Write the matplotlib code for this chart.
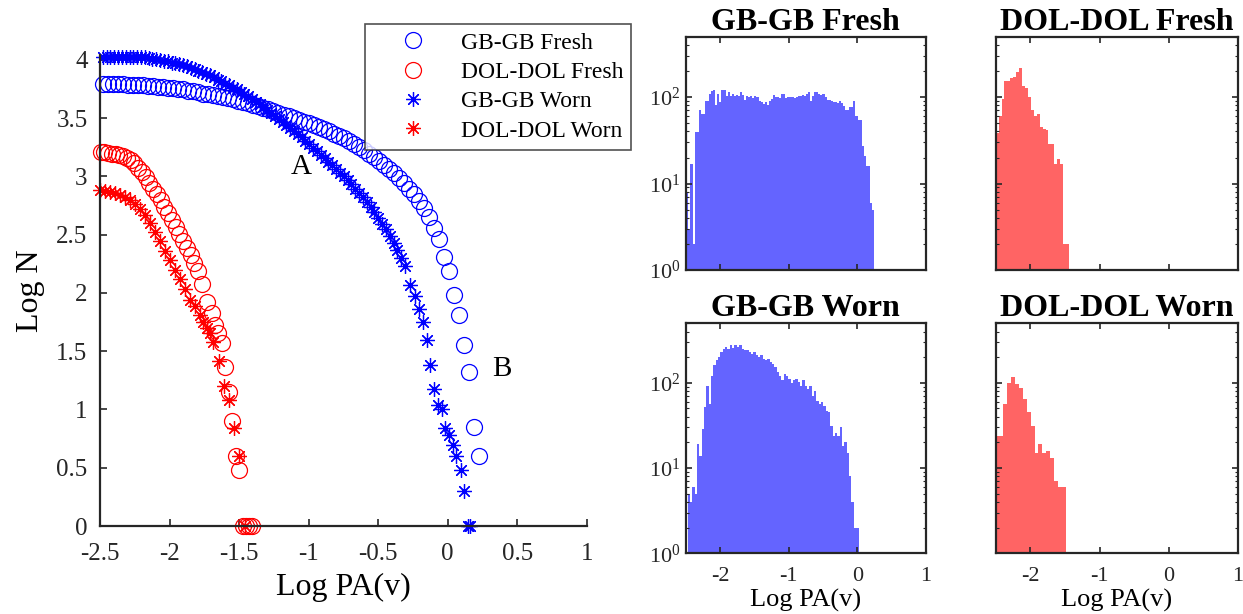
import numpy as np
import matplotlib
matplotlib.use("Agg")
import matplotlib.pyplot as plt
from matplotlib.ticker import LogLocator, NullFormatter

plt.rcParams['font.family'] = ['Liberation Serif', 'DejaVu Serif']
plt.rcParams['mathtext.fontset'] = 'stix'

# === Cumulative curves (Log N vs Log PA) ===
gb_fresh_x = [-2.480, -2.444, -2.408, -2.372, -2.336, -2.300, -2.263, -2.227, -2.191, -2.155,
              -2.119, -2.083, -2.047, -2.011, -1.975, -1.939, -1.902, -1.866, -1.830, -1.794,
              -1.758, -1.722, -1.686, -1.650, -1.614, -1.578, -1.541, -1.505, -1.469, -1.433,
              -1.397, -1.361, -1.325, -1.289, -1.253, -1.217, -1.180, -1.144, -1.108, -1.072,
              -1.036, -1.000, -0.964, -0.928, -0.892, -0.856, -0.819, -0.783, -0.747, -0.711,
              -0.675, -0.639, -0.603, -0.567, -0.531, -0.495, -0.458, -0.422, -0.386, -0.350,
              -0.314, -0.278, -0.242, -0.206, -0.170, -0.134, -0.097, -0.061, -0.025, 0.011,
              0.047, 0.083, 0.119, 0.155, 0.191, 0.227]
gb_fresh_y = [3.79, 3.79, 3.79, 3.79, 3.79, 3.785, 3.785, 3.78, 3.78, 3.775,
              3.775, 3.77, 3.765, 3.76, 3.755, 3.75, 3.745, 3.735, 3.73, 3.72,
              3.71, 3.705, 3.70, 3.69, 3.68, 3.67, 3.66, 3.65, 3.635, 3.625,
              3.615, 3.60, 3.59, 3.575, 3.56, 3.545, 3.53, 3.515, 3.50, 3.485,
              3.47, 3.455, 3.44, 3.42, 3.405, 3.385, 3.365, 3.345, 3.325, 3.30,
              3.275, 3.25, 3.225, 3.195, 3.165, 3.13, 3.095, 3.06, 3.025, 2.985,
              2.94, 2.895, 2.845, 2.79, 2.73, 2.65, 2.56, 2.46, 2.31, 2.19,
              1.98, 1.81, 1.55, 1.32, 0.85, 0.60]

gb_worn_x = [-2.480, -2.453, -2.425, -2.398, -2.370, -2.343, -2.315, -2.288, -2.260, -2.233,
             -2.205, -2.178, -2.150, -2.123, -2.095, -2.068, -2.040, -2.013, -1.985, -1.958,
             -1.930, -1.903, -1.875, -1.848, -1.820, -1.793, -1.765, -1.738, -1.710, -1.683,
             -1.655, -1.628, -1.600, -1.573, -1.545, -1.518, -1.490, -1.463, -1.435, -1.408,
             -1.380, -1.353, -1.325, -1.298, -1.270, -1.243, -1.215, -1.188, -1.160, -1.133,
             -1.105, -1.078, -1.050, -1.023, -0.995, -0.968, -0.940, -0.913, -0.885, -0.858,
             -0.830, -0.803, -0.775, -0.748, -0.720, -0.693, -0.665, -0.638, -0.610, -0.583,
             -0.555, -0.528, -0.500, -0.473, -0.445, -0.418, -0.390, -0.363, -0.335, -0.308,
             -0.268, -0.232, -0.209, -0.180, -0.150, -0.126, -0.097, -0.067, -0.041, -0.017,
             0.012, 0.036, 0.057, 0.092, 0.116, 0.148, 0.158]
gb_worn_y = [4.02, 4.02, 4.02, 4.02, 4.02, 4.02, 4.02, 4.02, 4.02, 4.02,
             4.02, 4.02, 4.015, 4.01, 4.005, 4.0, 3.99, 3.985, 3.975, 3.97,
             3.96, 3.955, 3.945, 3.93, 3.92, 3.905, 3.895, 3.88, 3.865, 3.85,
             3.83, 3.815, 3.795, 3.78, 3.76, 3.745, 3.725, 3.705, 3.685, 3.665,
             3.64, 3.62, 3.595, 3.57, 3.545, 3.52, 3.495, 3.47, 3.44, 3.415,
             3.39, 3.36, 3.335, 3.305, 3.275, 3.245, 3.215, 3.185, 3.155, 3.125,
             3.095, 3.065, 3.03, 3.0, 2.965, 2.93, 2.895, 2.86, 2.82, 2.78,
             2.735, 2.69, 2.645, 2.595, 2.545, 2.49, 2.43, 2.365, 2.30, 2.23,
             2.065, 1.973, 1.865, 1.751, 1.594, 1.380, 1.176, 1.041, 1.000, 0.845,
             0.778, 0.699, 0.602, 0.477, 0.301, 0.0, 0.0]

dol_fresh_x = [-2.496, -2.469, -2.442, -2.415, -2.388, -2.361, -2.334, -2.307, -2.280, -2.253,
               -2.226, -2.199, -2.172, -2.145, -2.118, -2.091, -2.064, -2.037, -2.010, -1.983,
               -1.956, -1.929, -1.902, -1.875, -1.848, -1.821, -1.794, -1.767, -1.732, -1.696,
               -1.673, -1.649, -1.625, -1.601, -1.572, -1.548, -1.519, -1.498, -1.470, -1.450,
               -1.430, -1.410]
dol_fresh_y = [3.21, 3.205, 3.20, 3.195, 3.19, 3.185, 3.175, 3.16, 3.14, 3.11,
               3.075, 3.035, 2.99, 2.945, 2.895, 2.845, 2.795, 2.74, 2.685, 2.625,
               2.565, 2.505, 2.445, 2.385, 2.325, 2.26, 2.19, 2.075, 1.92, 1.826,
               1.724, 1.653, 1.568, 1.362, 1.146, 0.903, 0.602, 0.477, 0.0, 0.0,
               0.0, 0.0]

dol_worn_x = [-2.500, -2.464, -2.428, -2.392, -2.356, -2.320, -2.284, -2.248, -2.212, -2.176,
              -2.140, -2.104, -2.068, -2.032, -1.996, -1.960, -1.924, -1.888, -1.853, -1.817,
              -1.781, -1.757, -1.733, -1.709, -1.685, -1.642, -1.606, -1.572, -1.536, -1.500,
              -1.460]
dol_worn_y = [2.885, 2.875, 2.865, 2.855, 2.84, 2.825, 2.80, 2.765, 2.72, 2.665,
              2.60, 2.525, 2.445, 2.36, 2.28, 2.20, 2.115, 2.03, 1.94, 1.89,
              1.81, 1.75, 1.70, 1.653, 1.58, 1.415, 1.204, 1.079, 0.845, 0.602,
              0.0]

# === Histograms (counts per bin, bins span the given range) ===
gb_fresh_range = (-2.49, 0.243)
gb_fresh_counts = [8, 3, 17, 2, 39, 39, 71, 64, 64, 90, 90, 109, 119, 121, 82, 108, 88, 121, 121, 103,
                   116, 104, 109, 104, 106, 104, 115, 107, 93, 103, 101, 103, 97, 103, 100, 90, 87, 84, 88, 80,
                   90, 96, 106, 100, 100, 98, 110, 110, 98, 101, 100, 101, 98, 100, 103, 102, 106, 103, 110, 113,
                   90, 104, 113, 115, 110, 106, 108, 101, 93, 93, 89, 87, 87, 85, 89, 85, 78, 70, 70, 77,
                   77, 90, 61, 55, 55, 27, 21, 16, 16, 6, 5]

dol_fresh_range = (-2.5, -1.44)
dol_fresh_counts = [38, 61, 96, 155, 155, 167, 169, 195, 216, 136, 128, 100, 70, 61, 64, 45, 43, 42,
                    29, 29, 17, 19, 17, 2, 2]

gb_worn_range = (-2.47, 0.017)
gb_worn_counts = [5, 4, 6, 5, 19, 14, 29, 52, 93, 56, 120, 160, 183, 200, 230, 247, 264, 250, 277, 256,
                  280, 264, 277, 250, 241, 245, 230, 220, 230, 210, 200, 213, 192, 183, 188, 175, 168, 153, 134, 120,
                  107, 128, 120, 111, 100, 107, 111, 102, 93, 107, 93, 85, 93, 71, 81, 62, 56, 59, 54, 47,
                  45, 31, 24, 26, 24, 30, 18, 20, 15, 8, 4, 2, 2]

dol_worn_range = (-2.5, -1.49)
dol_worn_counts = [24, 24, 56, 100, 117, 98, 87, 65, 45, 31, 15, 19, 15, 16, 13, 7, 6, 6]

blue = '#0000FF'
red = '#FF0000'
hist_blue = '#6464FF'
hist_red = '#FF6464'

fig = plt.figure(figsize=(12.43, 6.14), dpi=100)

# === Left: cumulative plot ===
ax = fig.add_axes([0.0805, 0.1433, 0.3916, 0.767])
ax.plot(gb_fresh_x, gb_fresh_y, 'o', mfc='none', mec=blue, ms=11.5, mew=0.9, ls='none', label='GB-GB Fresh')
ax.plot(dol_fresh_x, dol_fresh_y, 'o', mfc='none', mec=red, ms=11.5, mew=0.9, ls='none', label='DOL-DOL Fresh')
ax.plot(gb_worn_x, gb_worn_y, marker=(8, 2, 0), color=blue, ms=10.5, mew=0.9, ls='none', label='GB-GB Worn')
ax.plot(dol_worn_x, dol_worn_y, marker=(8, 2, 0), color=red, ms=10.5, mew=0.9, ls='none', label='DOL-DOL Worn')
for m in ax.lines:
    m.set_clip_on(False)

ax.set_xlim(-2.5, 1)
ax.set_ylim(0, 4.04)
ax.set_xticks([-2.5, -2, -1.5, -1, -0.5, 0, 0.5, 1])
ax.set_xticklabels(['-2.5', '-2', '-1.5', '-1', '-0.5', '0', '0.5', '1'])
ax.set_yticks([0, 0.5, 1, 1.5, 2, 2.5, 3, 3.5, 4])
ax.set_yticklabels(['0', '0.5', '1', '1.5', '2', '2.5', '3', '3.5', '4'])
ax.spines['top'].set_visible(False)
ax.spines['right'].set_visible(False)
for s in ('left', 'bottom'):
    ax.spines[s].set_linewidth(1.6)
    ax.spines[s].set_color('#262626')
ax.tick_params(direction='in', length=5, width=1.2, labelsize=18, colors='#262626')
ax.tick_params(axis='x', pad=12)
ax.tick_params(axis='y', pad=9)
ax.set_xlabel('Log PA(v)', fontsize=23, labelpad=6)
ax.set_ylabel('Log N', fontsize=23, labelpad=8)
ax.text(-1.05, 3.08, 'A', fontsize=21, ha='center', va='center')
ax.text(0.39, 1.35, 'B', fontsize=21, ha='center', va='center')

leg = ax.legend(loc='upper left', bbox_to_anchor=(0.2936, 0.961), bbox_transform=fig.transFigure,
                borderaxespad=0, fontsize=17, frameon=True, fancybox=False, handlelength=3.4,
                handletextpad=0.3, borderpad=0.35, labelspacing=0.33, markerscale=1.0)
leg.get_frame().set_edgecolor('#262626')
leg.get_frame().set_linewidth(1.2)

# === Right: histograms ===
def draw_hist(rect, counts, rng, color, title, xlab, ylab):
    h = fig.add_axes(rect)
    edges = np.linspace(rng[0], rng[1], len(counts) + 1)
    h.bar(edges[:-1], counts, width=np.diff(edges), align='edge', color=color, linewidth=0)
    h.set_yscale('log')
    h.set_xlim(-2.5, 1)
    h.set_ylim(1, 500)
    h.set_xticks([-2, -1, 0, 1])
    h.yaxis.set_major_locator(LogLocator(base=10, numticks=5))
    h.yaxis.set_minor_locator(LogLocator(base=10, subs=np.arange(2, 10), numticks=10))
    h.yaxis.set_minor_formatter(NullFormatter())
    h.tick_params(which='both', direction='in', top=True, right=True, colors='#262626', labelsize=16)
    h.tick_params(which='major', length=4, width=1.2)
    h.tick_params(which='minor', length=2.2, width=0.8)
    h.tick_params(axis='x', pad=10)
    for s in h.spines.values():
        s.set_linewidth(1.6)
        s.set_color('#262626')
    if xlab:
        h.set_xticklabels(['-2', '-1', '0', '1'])
        h.set_xlabel('Log PA(v)', fontsize=19, labelpad=2)
    else:
        h.set_xticklabels([])
    if not ylab:
        h.set_yticklabels([])
    h.set_title(title, fontsize=23, fontweight='bold', pad=4)
    return h

draw_hist([0.5516, 0.5603, 0.1934, 0.380], gb_fresh_counts, gb_fresh_range, hist_blue, 'GB-GB Fresh', False, True)
draw_hist([0.8010, 0.5603, 0.1950, 0.380], dol_fresh_counts, dol_fresh_range, hist_red, 'DOL-DOL Fresh', False, False)
draw_hist([0.5516, 0.0989, 0.1934, 0.3746], gb_worn_counts, gb_worn_range, hist_blue, 'GB-GB Worn', True, True)
draw_hist([0.8010, 0.0989, 0.1950, 0.3746], dol_worn_counts, dol_worn_range, hist_red, 'DOL-DOL Worn', True, False)

fig.savefig('out.png', dpi=100)
